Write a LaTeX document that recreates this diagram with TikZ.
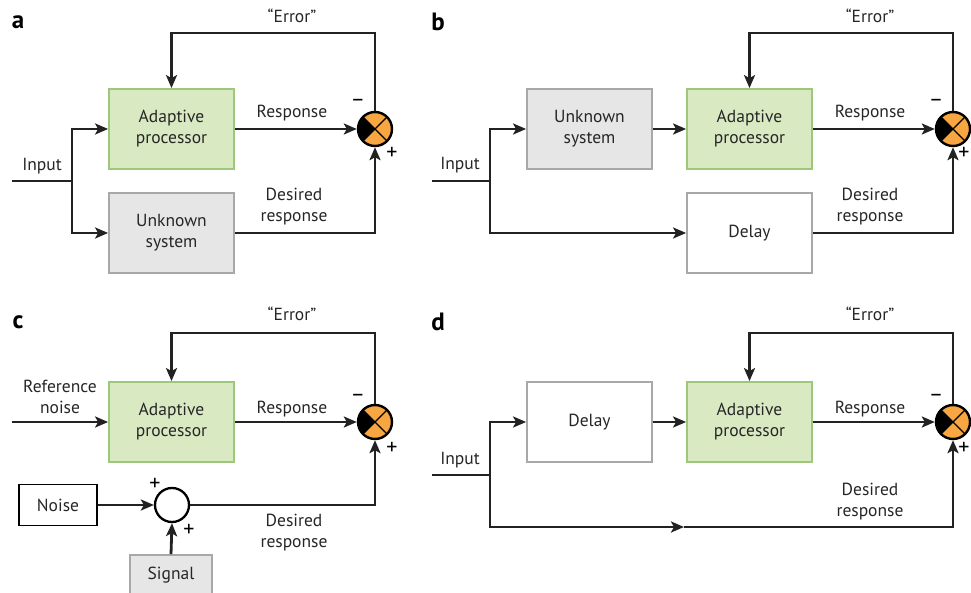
\documentclass[tikz,border=0pt]{standalone}
\usepackage{fontspec}
\setmainfont{PT Sans}
\usetikzlibrary{arrows.meta,calc}
\definecolor{txt}{HTML}{262626}
\definecolor{wire}{HTML}{222222}
\definecolor{greenfill}{HTML}{D9EAC3}
\definecolor{greenline}{HTML}{9DC87B}
\definecolor{greyfill}{HTML}{E6E6E6}
\definecolor{greyline}{HTML}{A8A8A8}
\definecolor{sumorange}{HTML}{F7A641}
\tikzset{
  every node/.style={text=txt, font=\fontsize{17.5}{21}\selectfont},
  blockbase/.style={draw, line width=1.8pt, minimum width=125pt, minimum height=80pt, align=center, inner sep=0pt},
  adaptbox/.style={blockbase, fill=greenfill, draw=greenline},
  plantbox/.style={blockbase, fill=greyfill, draw=greyline},
  delaybox/.style={blockbase, fill=white, draw=greyline},
  sumjn/.style={circle, draw=black, line width=2.4pt, fill=sumorange, minimum size=34pt, inner sep=0pt,
    path picture={
      \fill[black] (path picture bounding box.center) -- (path picture bounding box.north west)
        -- (path picture bounding box.south west) -- cycle;
      \draw[black, line width=1.2pt] (path picture bounding box.north west) -- (path picture bounding box.south east)
        (path picture bounding box.south west) -- (path picture bounding box.north east);
    }},
  adder/.style={circle, draw=black, line width=2.3pt, fill=white, minimum size=34pt, inner sep=0pt},
  wirestyle/.style={draw=wire, line width=2.8pt},
  arr/.style={wirestyle, -{Stealth[length=13pt, width=11pt, inset=3pt]}},
  panel/.style={font=\fontsize{25}{27}\bfseries\selectfont, text=black},
  sign/.style={font=\fontsize{22}{23}\selectfont, text=black},
}
\begin{document}
\begin{tikzpicture}[x=1pt, y=-1pt]
\useasboundingbox (0,0) rectangle (971,593);

% ---------------- panel a: system identification ----------------
\node[panel] (la) at (18,22) {a};
\node[adaptbox] (apA) at (171.5,129) {Adaptive\\processor};
\node[plantbox] (usA) at (171.5,233) {Unknown\\system};
\node[sumjn] (sumA) at (375,129) {};
\coordinate (inA) at (12,181);
\coordinate (jA) at (72,181);
\coordinate (topA) at (375,33);
\draw[wirestyle] (inA) -- (jA);
\draw[arr] (jA) |- (apA.west);
\draw[arr] (jA) |- (usA.west);
\draw[arr] (apA.east) -- (sumA.west);
\draw[arr] (usA.east) -| (sumA.south);
\draw[arr] (sumA.north) -- (topA) -| (apA.north);
\node (tInA) at (42,166) {Input};
\node (tRespA) at (292,113) {Response};
\node[align=center] (tDesA) at (294,207) {Desired\\response};
\node (tErrA) at (292,16) {“Error”};
\node[sign] (mA) at (358,103) {–};
\node[sign] (pA) at (392,153) {+};

% ---------------- panel b: inverse modelling ----------------
\node[panel] (lb) at (438,22) {b};
\node[plantbox] (usB) at (589.5,129) {Unknown\\system};
\node[adaptbox] (apB) at (749.5,129) {Adaptive\\processor};
\node[delaybox] (dlB) at (749.5,233) {Delay};
\node[sumjn] (sumB) at (953,129) {};
\coordinate (inB) at (432,181);
\coordinate (jB) at (490,181);
\coordinate (topB) at (953,33);
\draw[wirestyle] (inB) -- (jB);
\draw[arr] (jB) |- (usB.west);
\draw[arr] (jB) |- (dlB.west);
\draw[arr] (usB.east) -- (apB.west);
\draw[arr] (apB.east) -- (sumB.west);
\draw[arr] (dlB.east) -| (sumB.south);
\draw[arr] (sumB.north) -- (topB) -| (apB.north);
\node (tInB) at (460,165) {Input};
\node (tRespB) at (870,113) {Response};
\node[align=center] (tDesB) at (870,207) {Desired\\response};
\node (tErrB) at (870,16) {“Error”};
\node[sign] (mB) at (936,103) {–};
\node[sign] (pB) at (964,153) {+};

% ---------------- panel c: interference cancelling ----------------
\node[panel] (lc) at (18,322) {c};
\node[adaptbox] (apC) at (171.5,422) {Adaptive\\processor};
\node[sumjn] (sumC) at (375,422) {};
\node[draw=black, line width=1.8pt, fill=white, minimum width=78pt, minimum height=41pt, inner sep=0pt] (noise) at (58,505) {Noise};
\node[adder] (add) at (172,505) {};
\node[draw=greyline, line width=1.8pt, fill=greyfill, minimum width=82pt, minimum height=40pt, inner sep=0pt] (sig) at (171,575) {Signal};
\coordinate (inC) at (12,422);
\coordinate (topC) at (375,333);
\draw[arr] (inC) -- (apC.west);
\draw[arr] (apC.east) -- (sumC.west);
\draw[arr] (noise.east) -- (add.west);
\draw[arr] (sig.north) -- (add.south);
\draw[arr] (add.east) -| (sumC.south);
\draw[arr] (sumC.north) -- (topC) -| (apC.north);
\node[align=center] (tRefC) at (60,397) {Reference\\noise};
\node (tRespC) at (292,409) {Response};
\node[align=center] (tDesC) at (294,533) {Desired\\response};
\node (tErrC) at (292,314) {“Error”};
\node[sign] (mC) at (358,398) {–};
\node[sign] (pC) at (392,448) {+};
\node[sign] (pAdd1) at (155,484) {+};
\node[sign] (pAdd2) at (189,530) {+};

% ---------------- panel d: prediction ----------------
\node[panel] (ld) at (438,322) {d};
\node[delaybox] (dlD) at (589.5,422) {Delay};
\node[adaptbox] (apD) at (749.5,422) {Adaptive\\processor};
\node[sumjn] (sumD) at (953,422) {};
\coordinate (inD) at (432,475);
\coordinate (jD) at (490,475);
\coordinate (midD) at (684,527);
\coordinate (topD) at (953,333);
\draw[wirestyle] (inD) -- (jD);
\draw[arr] (jD) |- (dlD.west);
\draw[arr] (jD) |- (midD);
\draw[arr] (midD) -| (sumD.south);
\draw[arr] (dlD.east) -- (apD.west);
\draw[arr] (apD.east) -- (sumD.west);
\draw[arr] (sumD.north) -- (topD) -| (apD.north);
\node (tInD) at (460,460) {Input};
\node (tRespD) at (870,409) {Response};
\node[align=center] (tDesD) at (870,502) {Desired\\response};
\node (tErrD) at (870,314) {“Error”};
\node[sign] (mD) at (936,398) {–};
\node[sign] (pD) at (964,448) {+};
\end{tikzpicture}
\end{document}
